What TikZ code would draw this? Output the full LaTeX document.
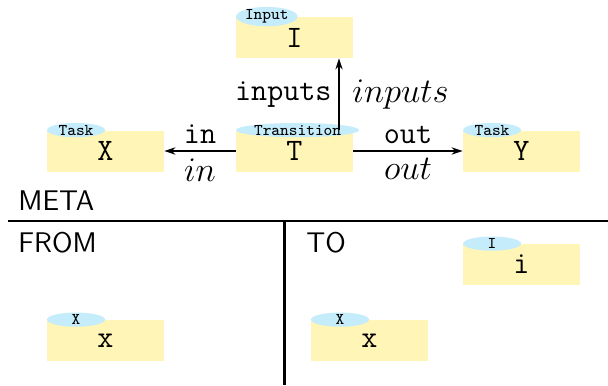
\documentclass[tikz,border=0pt]{standalone}
\usetikzlibrary{arrows.meta,shapes.geometric}
\definecolor{boxyellow}{HTML}{FFF5B7}
\definecolor{tagblue}{HTML}{C4ECFB}
\newcommand{\biglabelsize}{\fontsize{15.6}{18}\selectfont}
\begin{document}
\begin{tikzpicture}[x=0.5pt,y=-0.5pt,
  objbox/.style={rectangle,fill=boxyellow,minimum width=58.5pt,minimum height=20.5pt,inner sep=0pt,font=\ttfamily\biglabelsize},
  tag/.style={ellipse,fill=tagblue,inner sep=0pt,minimum width=29pt,minimum height=7pt,anchor=west,font=\ttfamily\fontsize{8.2}{9}\selectfont},
  conn/.style={line width=0.8pt,-{Stealth[length=5.5pt,width=3.6pt]}},
  lbl/.style={font=\ttfamily\biglabelsize},
  mlbl/.style={font=\fontsize{16}{18}\selectfont},
  head/.style={anchor=base west,inner sep=0pt,font=\sffamily\fontsize{14.2}{16}\selectfont},
  divider/.style={line width=1.1pt}]
\useasboundingbox (0,0) rectangle (608,385);
% boxes
\node[objbox] (X) at (105.5,151) {X};
\node[objbox] (T) at (294.5,151) {T};
\node[objbox] (Y) at (521.5,151) {Y};
\node[objbox] (I) at (294.5,37.5) {I};
\node[objbox] (i) at (521.5,264.5) {i};
\node[objbox] (xa) at (105.5,340.5) {x};
\node[objbox] (xb) at (369.5,340.5) {x};
% tags
\node[tag] (tX) at (X.north west) {Task};
\node[tag] (tT) at (T.north west) {Transition};
\node[tag] (tY) at (Y.north west) {Task};
\node[tag] (tI) at (I.north west) {Input};
\node[tag] (ti) at (i.north west) {I};
\node[tag] (txa) at (xa.north west) {X};
\node[tag] (txb) at (xb.north west) {X};
% connectors
\draw[conn] (T.west) -- (X.east)
  node[midway,above,lbl] {in} node[midway,below,mlbl] {$in$};
\draw[conn] (T.east) -- (Y.west)
  node[midway,above,lbl] {out} node[midway,below,mlbl] {$out$};
\draw[conn] ([xshift=22.25pt]T.north) -- ([xshift=22.25pt]I.south)
  node[midway,left,lbl] {inputs} node[midway,right,mlbl,xshift=3pt] {$inputs$};
% headings and dividers
\node[head] (meta) at (18,210) {META};
\node[head] (from) at (18,252) {FROM};
\node[head] (to) at (306,252) {TO};
\coordinate (hl) at (8,221);
\coordinate (hr) at (608,221);
\coordinate (vt) at (284.5,221);
\coordinate (vb) at (284.5,385);
\draw[divider] (hl) -- (hr);
\draw[divider] (vt) -- (vb);
\end{tikzpicture}
\end{document}
